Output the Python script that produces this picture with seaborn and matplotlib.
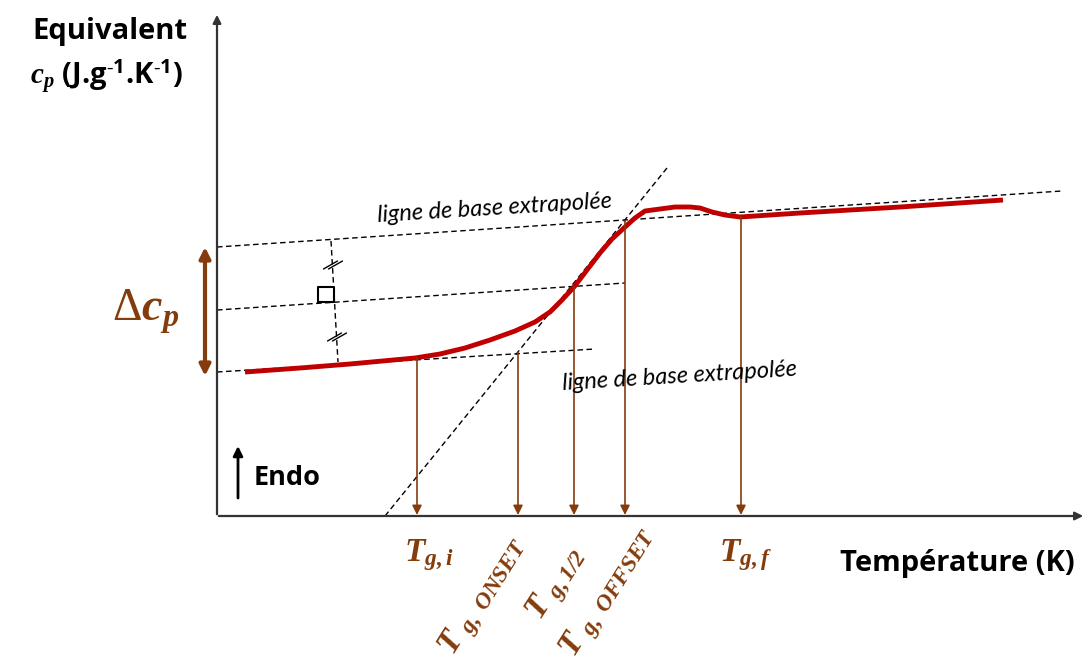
import matplotlib
matplotlib.use("Agg")
import matplotlib.pyplot as plt
import seaborn as sns
import pandas as pd
import numpy as np

# ---------------- data (schematic units: horizontal = temperature, vertical = cp, screen-like) -----
curve_T = [245, 300, 350, 415, 440, 465, 490, 515, 535, 550, 562, 574, 587, 600, 612, 625,
           635, 645, 660, 675, 690, 700, 712, 725, 740, 800, 900, 1003]
curve_cp = [372, 368, 364, 358, 354, 348, 340, 331, 322, 312, 300, 287, 270, 253, 239, 227,
            218, 211, 209, 207, 207, 208, 212, 215, 217, 213, 207, 200]

base_low_T, base_low_cp = [217, 595], [372, 349]
base_high_T, base_high_cp = [217, 1062], [247, 191]
base_mid_T, base_mid_cp = [217, 625], [310, 283]
tangent_T, tangent_cp = [385, 667], [516, 168]
perp_T, perp_cp = [331, 338], [241, 362]

tg_names = ["Tg,i", "Tg,onset", "Tg,1/2", "Tg,offset", "Tg,f"]
tg_T = [417, 518, 574, 625, 741]
tg_cp = [358, 352, 287, 221, 217]
tg_labels = [r'$\mathbfit{T}_{\mathbfit{g,i}}$',
             r'$\mathbfit{T}\ _{\mathbfit{g,\ ONSET}}$',
             r'$\mathbfit{T}\ _{\mathbfit{g,1/2}}$',
             r'$\mathbfit{T}\ _{\mathbfit{g,\ OFFSET}}$',
             r'$\mathbfit{T}_{\mathbfit{g,f}}$']
tg_label_x = [429, 483, 557, 608, 746]
tg_label_y = [555, 596, 584, 592, 555]
tg_label_rot = [0, 58, 57, 58, 0]

x_label = "Température (K)"
y_label_1 = "Equivalent"
y_label_2 = r'$\mathbfit{c}_{\mathbfit{p}}$ (J.g$^{\mathsf{‐1}}$.K$^{\mathsf{‐1}}$)'
baseline_text = "ligne de base extrapolée"

RED = "#C00000"
BROWN = "#843C0C"
AXIS = "#333333"

sns.set_theme(style="white")
plt.rcParams["font.family"] = ["Open Sans", "DejaVu Sans"]
plt.rcParams["text.color"] = "black"
plt.rcParams["mathtext.fontset"] = "custom"
plt.rcParams["mathtext.rm"] = "Liberation Serif"
plt.rcParams["mathtext.it"] = "Liberation Serif:italic"
plt.rcParams["mathtext.bf"] = "Liberation Serif:bold"
plt.rcParams["mathtext.bfit"] = "Liberation Serif:italic:bold"
plt.rcParams["mathtext.sf"] = "Open Sans:bold"

fig = plt.figure(figsize=(10.86, 6.68), dpi=100)
ax = fig.add_axes([0, 0, 1, 1])
ax.set_xlim(0, 1086)
ax.set_ylim(668, 0)
ax.axis("off")

dash = dict(color="black", lw=1.0, dashes=(4, 2.5))

def dline(xs, ys):
    df = pd.DataFrame({"T": xs, "cp": ys})
    sns.lineplot(data=df, x="T", y="cp", ax=ax, sort=False, **dash)

dline(base_low_T, base_low_cp)
dline(base_high_T, base_high_cp)
dline(base_mid_T, base_mid_cp)
dline(tangent_T, tangent_cp)
dline(perp_T, perp_cp)

# tick marks (equal-length marks) on the perpendicular
for (cx, cy) in [(333, 265), (337, 337)]:
    for off in (-2.5, 2.5):
        ax.plot([cx - 7 + off, cx + 7 + off], [cy + 4, cy - 4], color="black", lw=1.0)
# right-angle square
ax.plot([318, 318, 334, 334, 318], [302, 287, 287, 302, 302], color="black", lw=1.5)

# axes
ax.annotate("", xy=(217, 12), xytext=(217, 517),
            arrowprops=dict(arrowstyle="-|>", color=AXIS, lw=1.6, mutation_scale=12))
ax.annotate("", xy=(1086, 516), xytext=(216, 516),
            arrowprops=dict(arrowstyle="-|>", color=AXIS, lw=1.6, mutation_scale=12))

# vertical brown arrows to the axis
for tx, ty in zip(tg_T, tg_cp):
    ax.annotate("", xy=(tx, 515), xytext=(tx, ty),
                arrowprops=dict(arrowstyle="-|>", color=BROWN, lw=1.2, mutation_scale=14,
                                shrinkA=0, shrinkB=0))

# red curve
df_curve = pd.DataFrame({"T": curve_T, "cp": curve_cp})
sns.lineplot(data=df_curve, x="T", y="cp", ax=ax, sort=False, color=RED, lw=3.5,
             solid_capstyle="butt", solid_joinstyle="round")

# delta cp arrow
ax.annotate("", xy=(205, 247), xytext=(205, 376),
            arrowprops=dict(arrowstyle="<|-|>", color=BROWN, lw=3, mutation_scale=16,
                            shrinkA=0, shrinkB=0))
ax.text(146, 312, r'$\Delta\mathbfit{c}_{\mathbfit{p}}$', color=BROWN, fontsize=33,
        ha="center", va="center")

# endo arrow
ax.annotate("", xy=(238, 446), xytext=(238, 498),
            arrowprops=dict(arrowstyle="-|>", color="black", lw=2, mutation_scale=14,
                            shrinkA=0, shrinkB=0))
ax.text(254, 478, "Endo", fontsize=19.5, fontweight="bold", ha="left", va="center")

# baseline texts
ax.text(495, 208, baseline_text, fontsize=17, style="italic", family=["Lato", "DejaVu Sans"],
        ha="center", va="center", rotation=3.5, rotation_mode="anchor")
ax.text(680, 376, baseline_text, fontsize=17, style="italic", family=["Lato", "DejaVu Sans"],
        ha="center", va="center", rotation=3.5, rotation_mode="anchor")

# Tg labels
for lab, lx, ly, rot in zip(tg_labels, tg_label_x, tg_label_y, tg_label_rot):
    ax.text(lx, ly, lab, color=BROWN, fontsize=24, ha="center", va="center",
            rotation=rot, rotation_mode="anchor")

# axis titles
ax.text(957, 563, x_label, fontsize=21, fontweight="bold", ha="center", va="center")
ax.text(110, 32, y_label_1, fontsize=21, fontweight="bold", ha="center", va="center")
ax.text(106, 77, y_label_2, fontsize=21, fontweight="bold", ha="center", va="center")

fig.savefig("out.png", dpi=100)
